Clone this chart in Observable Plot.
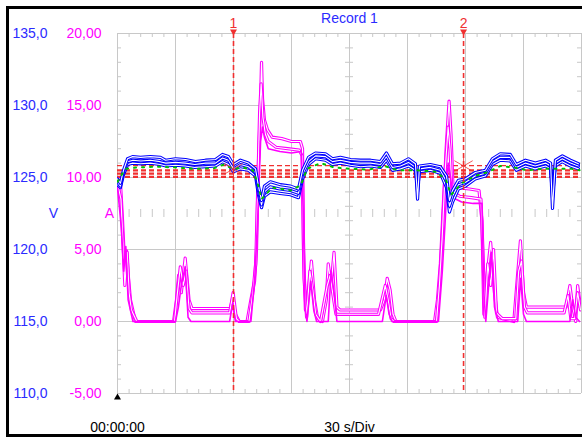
<!DOCTYPE html>
<html>
<head>
<meta charset="utf-8">
<script src="https://cdn.jsdelivr.net/npm/d3@7"></script>
<script src="https://cdn.jsdelivr.net/npm/@observablehq/plot@0.6"></script>
<style>
  html, body { margin: 0; padding: 0; background: #fff; }
  #wrap { position: relative; width: 582px; height: 438px; overflow: hidden; }
  #border { position: absolute; left: 6px; top: 6px; width: 620px; height: 431px; border: 3px solid #000; box-sizing: border-box; pointer-events: none; }
</style>
</head>
<body>
<div id="wrap"><div id="border"></div></div>
<script>
// ---- axis / tick values ----
const voltTicks = [110, 115, 120, 125, 130, 135];          // V axis labels
const gridTimes = [0, 30, 60, 90, 120, 150, 180, 210, 240]; // 30 s/Div
const minorTimes = d3.range(0, 241, 6);
const minorVolts = d3.range(110, 135.01, 1);
const cursorTimes = [60, 179];
const cursorLabels = ["1", "2"];
const limitVolts = [125.83, 125.5, 125.27, 125.05];
const markerVolts = [125.6, 125.8];

// ---- voltage traces [time s, V] ----
const volt1 = [[0,124.9],[1.5,124.6],[3.1,125.5],[5.2,126.3],[7.8,126.45],[11.9,126.4],[17,126.45],[22.2,126.4],[24.8,126.2],[30,126.3],[35.2,126.25],[40.3,126.1],[45.5,126.2],[50.7,126.25],[54.3,126.6],[57.4,126.45],[60,125.9],[63.6,126.2],[67.7,126.0],[71.4,125.6],[72.9,124.4],[74.5,123.4],[76,124.4],[79.1,124.7],[84.3,124.5],[89.5,124.4],[93.6,124.2],[95.7,125.5],[98.8,126.4],[102.4,126.7],[107.6,126.65],[111.2,126.3],[115.3,126.4],[120.5,126.25],[125.7,126.2],[130.9,126.2],[136,126.1],[139.1,126.7],[142.2,125.95],[146.4,126.0],[150.5,126.3],[154.1,125.95],[155.2,123.5],[156.2,125.8],[161.8,125.9],[167,125.75],[170.2,125.1],[171.7,123.4],[173.3,124.1],[176.3,124.8],[179.9,124.9],[185.1,125.35],[190.3,125.5],[193.9,126.3],[198,126.65],[203.2,126.6],[206.3,125.9],[211,126.2],[216.2,126.0],[221.4,126.2],[224,126.0],[225,122.85],[226.5,126.2],[230.1,126.5],[234.3,126.2],[238.4,125.95]];
const volt2 = [[0,124.5],[1.5,124.3],[3.1,125.2],[5.2,125.9],[7.8,126.0],[12,125.95],[17,126.0],[22,125.9],[25,125.8],[30,125.85],[35,125.8],[40,125.7],[45.5,125.75],[50.7,125.8],[54.3,126.1],[57.4,125.9],[60,125.4],[63.6,125.6],[67.7,125.5],[71.4,125.1],[72.9,123.8],[74.5,122.9],[76,123.7],[79,124.0],[84,123.9],[89.5,123.8],[93.6,123.6],[95.7,124.9],[98.8,125.9],[102.4,126.3],[107.6,126.2],[111.2,125.9],[115.3,126.0],[120.5,125.85],[125.7,125.75],[131,125.8],[136,125.7],[139.1,126.2],[142.2,125.5],[146.4,125.6],[150.5,125.8],[154.1,125.5],[155.2,124.6],[156.2,125.4],[161.8,125.5],[167,125.3],[170.2,124.3],[171.7,122.6],[173.3,123.3],[176.3,124.2],[179.9,124.4],[185,124.9],[190.3,125.1],[193.9,125.9],[198,126.2],[203.2,126.15],[206.3,125.5],[211,125.8],[216,125.6],[221.4,125.8],[224,125.6],[225,124.5],[226.5,125.8],[230,126.1],[234.3,125.8],[238.4,125.6]];
const volt3 = [[0,124.7],[1.5,124.4],[3.1,125.4],[5.2,126.1],[8,126.2],[12,126.15],[17,126.2],[22,126.1],[25,126.0],[30,126.05],[35,126.0],[40,125.9],[45.5,126.0],[50.7,126.0],[54.3,126.35],[57.4,126.2],[60,125.6],[63.6,125.9],[67.7,125.75],[71.4,125.35],[72.9,124.1],[74.5,123.1],[76,124.0],[79,124.35],[84,124.2],[89.5,124.1],[93.6,123.9],[95.7,125.2],[98.8,126.1],[102.4,126.5],[107.6,126.45],[111.2,126.1],[115.3,126.2],[120.5,126.05],[125.7,126.0],[131,126.0],[136,125.9],[139.1,126.45],[142.2,125.7],[146.4,125.8],[150.5,126.05],[154.1,125.7],[155.2,124.0],[156.2,125.6],[161.8,125.7],[167,125.5],[170.2,124.7],[171.7,123.0],[173.3,123.7],[176.3,124.5],[179.9,124.65],[185,125.1],[190.3,125.3],[193.9,126.1],[198,126.4],[203.2,126.4],[206.3,125.7],[211,126.0],[216,125.8],[221.4,126.0],[224,125.8],[225,123.6],[226.5,126.0],[230,126.3],[234.3,126.0],[238.4,125.8]];
const voltMid = [[0,124.7],[4,125.6],[10,125.7],[20,125.75],[30,125.7],[40,125.6],[50,125.65],[55,125.9],[60,125.6],[65,125.7],[70,125.5],[72.5,124.6],[74.5,123.5],[80,124.3],[90,124.1],[95,124.5],[98,125.6],[105,126.0],[112,125.7],[120,125.6],[130,125.55],[138,125.8],[145,125.5],[155,125.5],[165,125.4],[170,124.8],[172.5,123.8],[178,124.6],[185,125.1],[192,125.4],[198,125.8],[205,125.7],[212,125.5],[220,125.6],[228,125.6],[235,125.6],[239,125.5]];

// ---- current traces [time s, A] ----
const amp1 = [[0,9.9],[1.5,9.7],[2.6,7.0],[3.6,4.2],[4.7,4.9],[5.7,3.0],[6.7,1.5],[9.3,0],[29,0],[30.5,1.5],[31.6,3.2],[33,2.0],[35,4.4],[37,1.5],[38.5,0.9],[58.4,0.9],[59.5,1.6],[61,0.5],[63,0],[67,0],[69,1.5],[70.9,2.8],[71.9,5],[72.9,11],[74,15.3],[74.5,18],[75,15.5],[76,14],[77.6,13.3],[80,12.8],[85,12.7],[90,12.5],[94.6,12.5],[95.7,12],[96.2,5],[97.2,0.8],[98.8,2.2],[100.3,4.2],[101.9,1.5],[103.4,0.3],[106,0],[108,1.5],[109,4.0],[110.5,2.5],[112,4.8],[113.5,1.0],[115,0.8],[136,0.8],[138,1.5],[139.5,3.0],[141,2.2],[142.5,0.5],[144,0],[164,0],[165.5,1.5],[167,4],[168.5,8],[170,12],[171.5,15.3],[172.5,13],[173.5,9.5],[176,9.3],[182,9.2],[187,9.1],[188.5,7],[189.5,0.5],[191,3],[193,5.5],[195,2],[196.5,0.3],[205,0],[206.5,2.5],[208.4,5.6],[210,2.0],[211.5,1.0],[232,1.0],[234,2.5],[235.5,1.0],[237,0],[238,2.5],[239.5,1.0]];
const amp2 = [[0,9.6],[1.8,8.5],[2.8,5.5],[3.8,2.5],[5,4.8],[6,2.0],[7.2,0.8],[10,0],[29.5,0],[31,2.0],[32.5,3.8],[34,2.5],[35.5,3.5],[37,0.9],[38.5,0.6],[58,0.6],[59.8,2.0],[61.5,0.2],[63,0],[68,0],[70,2.0],[71.5,4.0],[72.5,9],[73.5,14.5],[74.3,16.5],[75.2,14.2],[76.5,13],[78,12.5],[82,12.1],[88,12.0],[94,11.9],[95.5,11.5],[96.5,3],[97.8,0.3],[99.5,3.5],[101,2.2],[102.5,0.5],[105,0],[108.5,2.5],[110,3.2],[111.5,1.8],[113,0.5],[115,0.5],[135,0.5],[138.5,2.5],[140,1.5],[141.5,0.2],[143,0],[165,0],[166.5,2.5],[168,6],[169.5,10.5],[171,13.5],[172,12],[173,9.0],[177,8.7],[183,8.6],[188,8.5],[189,5],[190,0.3],[191.5,4.0],[193,2.5],[194.5,5.0],[196,0.6],[199,0.2],[206,0.2],[207.5,3.5],[209,4.2],[210.5,1.0],[212,0.6],[231,0.6],[233,1.8],[234.5,0.2],[236.5,0.2],[238,2.0],[239.5,0.8]];
const amp3 = [[0,9.3],[2,6.5],[3.2,3.5],[4.3,5.2],[5.5,1.5],[8,0],[30,0],[31.5,1.0],[33,2.5],[35,3.8],[36.5,0.3],[38,0],[58,0],[59.5,1.2],[61,0],[69,0],[71,3],[72.8,8],[74,12.5],[75,13.5],[76,12.8],[78,12.0],[84,11.8],[90,11.7],[95,11.8],[96,8],[97,1],[98,0],[100,2.8],[101.5,0.8],[103,0],[109,0],[110.5,3.5],[112,2.0],[113.5,0],[137,0],[139,1.8],[140.5,0.5],[142,0],[166,0],[168,3.5],[169.5,7],[171,11],[172.3,10],[173.5,8.6],[178,8.3],[184,8.2],[188.5,8.2],[189.5,2],[190.5,0],[192,2.5],[193.5,4.8],[195,1.0],[197,0],[207,0],[208.5,3.0],[210,0.5],[211.5,0],[234,0],[235.5,1.5],[237,0.3],[239,0]];

const BLUE = "#0000ff", BLUE_TXT = "#2b2bff", MAG = "#ff00ff", GRID = "#c8c8c8", RED = "#f03030";
const fmtV = d => d.toFixed(1).replace(".", ",");
const ampOffset = 115; // 0 A sits on the 115 V line, 5 A per 5 V division
const fmtA = d => (d - ampOffset).toFixed(2).replace(".", ",");
const ampY = d => d[1] + ampOffset;
const tX = d => d[0], vY = d => d[1];

// hollow (envelope-looking) trace: coloured outer stroke with a white core
function hollow(data, y, color) {
  return [
    Plot.line(data, {x: tX, y, stroke: color, strokeWidth: 3.2, clip: true}),
    Plot.line(data, {x: tX, y, stroke: "#fff", strokeWidth: 1.1, clip: true})
  ];
}

const plot = Plot.plot({
  width: 582, height: 438,
  marginLeft: 117, marginRight: 1, marginTop: 33, marginBottom: 45,
  style: {fontFamily: "'Liberation Sans', Arial, sans-serif", fontSize: "14px", background: "transparent"},
  x: {domain: [0, 240], axis: null},
  y: {domain: [110, 135], axis: null},
  marks: [
    // graticule
    Plot.ruleX(gridTimes, {stroke: GRID, strokeWidth: 1}),
    Plot.ruleY(voltTicks, {stroke: GRID, strokeWidth: 1}),
    Plot.ruleX(minorTimes, {y1: () => 135, y2: () => 135, insetBottom: -4, stroke: GRID}),
    Plot.ruleX(minorTimes, {y1: () => 110, y2: () => 110, insetTop: -4, stroke: GRID}),
    Plot.ruleX(minorTimes, {y1: () => 122.5, y2: () => 122.5, insetTop: -4, insetBottom: -4, stroke: GRID}),
    Plot.ruleY(minorVolts, {x1: () => 0, x2: () => 0, insetRight: -4, stroke: GRID}),
    Plot.ruleY(minorVolts, {x1: () => 240, x2: () => 240, insetLeft: -4, stroke: GRID}),
    Plot.ruleY(minorVolts, {x1: () => 120, x2: () => 120, insetLeft: -4, insetRight: -4, stroke: GRID}),
    // axes labels
    Plot.axisY(voltTicks, {anchor: "left", tickSize: 0, tickPadding: 70, tickFormat: fmtV, fill: BLUE_TXT, fontSize: 14, label: null}),
    Plot.axisY(voltTicks, {anchor: "left", tickSize: 0, tickPadding: 16, tickFormat: fmtA, fill: MAG, fontSize: 14, label: null}),
    Plot.text(["V"], {frameAnchor: "left", y: () => 122.5, dx: -64, textAnchor: "middle", fill: BLUE_TXT, fontSize: 14}),
    Plot.text(["A"], {frameAnchor: "left", y: () => 122.5, dx: -8, textAnchor: "middle", fill: MAG, fontSize: 14}),
    // limit lines
    Plot.ruleY(limitVolts, {stroke: RED, strokeWidth: (d, i) => i === 0 ? 1.3 : 2.2, strokeDasharray: "5,3"}),
    // current traces
    ...hollow(amp1, ampY, MAG),
    ...hollow(amp2, ampY, MAG),
    Plot.line(amp3, {x: tX, y: ampY, stroke: MAG, strokeWidth: 1.6, clip: true}),
    // voltage traces
    ...hollow(volt2, vY, BLUE),
    ...hollow(volt3, vY, BLUE),
    ...hollow(volt1, vY, BLUE),
    Plot.line(voltMid, {x: tX, y: vY, stroke: "#00c000", strokeWidth: 2, strokeDasharray: "2,6", clip: true}),
    // cursors
    Plot.ruleX(cursorTimes, {stroke: RED, strokeWidth: 1.6, strokeDasharray: "5,3"}),
    Plot.dot(cursorTimes, {x: d => d, y: (d, i) => markerVolts[i], symbol: "asterisk", r: 10, stroke: RED, strokeWidth: 0.8}),
    Plot.dot(cursorTimes, {x: d => d, y: () => 135, dy: -2, symbol: "triangle", r: 2.6, rotate: 180, fill: RED, stroke: null}),
    Plot.text(cursorTimes, {x: d => d, y: () => 135, dy: -10, text: (d, i) => cursorLabels[i], fill: RED, fontSize: 14}),
    // trigger marker
    Plot.dot([0], {x: d => d, y: () => 110, dy: 4, symbol: "triangle", r: 2.6, fill: "#000", stroke: null}),
    // titles
    Plot.text(["Record 1"], {x: () => 120, y: () => 135, dy: -15, fill: BLUE_TXT, fontSize: 14}),
    Plot.text(["00:00:00"], {x: () => 0, y: () => 110, dy: 34, fill: "#000", fontSize: 14}),
    Plot.text(["30 s/Div"], {x: () => 120, y: () => 110, dy: 34, fill: "#000", fontSize: 14})
  ]
});
document.getElementById("wrap").prepend(plot);
</script>
</body>
</html>
